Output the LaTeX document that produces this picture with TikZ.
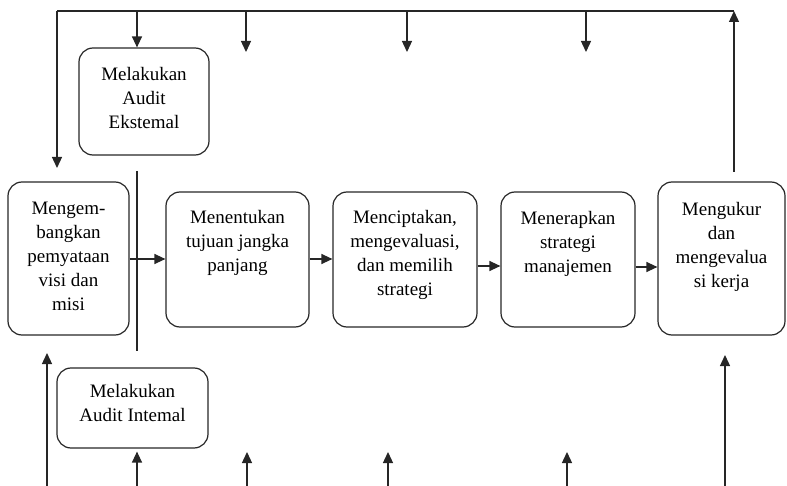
\documentclass[tikz,border=0pt]{standalone}
\usepackage{fontspec}
\setmainfont{Liberation Serif}
\usetikzlibrary{arrows.meta}
\begin{document}
\begin{tikzpicture}[x=1pt,y=-1pt,
  box/.style={draw=black!85,line width=1.2pt,rounded corners=14pt,inner sep=0pt},
  txt/.style={anchor=north,align=center,inner sep=0pt,font=\fontsize{19}{24}\selectfont,text=black},
  ln/.style={draw=black!85,line width=1.3pt},
  arr/.style={ln,-{Triangle[length=11pt,width=10pt]}}]
\useasboundingbox (0,0) rectangle (787,486);
% boxes
\node[box,minimum width=130pt,minimum height=107pt] (ext) at (144,101.5) {};
\node[box,minimum width=121pt,minimum height=153pt] (b1) at (68.5,258.5) {};
\node[box,minimum width=143pt,minimum height=135pt] (b2) at (237.5,259.5) {};
\node[box,minimum width=144pt,minimum height=135pt] (b3) at (405,259.5) {};
\node[box,minimum width=134pt,minimum height=135pt] (b4) at (568,259.5) {};
\node[box,minimum width=127pt,minimum height=153pt] (b5) at (721.5,258.5) {};
\node[box,minimum width=151pt,minimum height=80pt] (int) at (132.5,408) {};
% texts
\node[txt] (text) at (144,67) {Melakukan\\Audit\\Ekstemal};
\node[txt] (t1) at (68.5,202) {Mengem-\\bangkan\\pemyataan\\visi dan\\misi};
\node[txt] (t2) at (237.5,210) {Menentukan\\tujuan jangka\\panjang};
\node[txt] (t3) at (405,210) {Menciptakan,\\mengevaluasi,\\dan memilih\\strategi};
\node[txt] (t4) at (568,211) {Menerapkan\\strategi\\manajemen};
\node[txt] (t5) at (721.5,202) {Mengukur\\dan\\mengevalua\\si kerja};
\node[txt] (tint) at (132.5,384) {Melakukan\\Audit Intemal};
% coordinates
\coordinate (tl) at (57,11);
\coordinate (tr) at (734,11);
\coordinate (te) at (137,11);
\coordinate (rs) at (734,172);
\coordinate (ld) at (57,168);
\coordinate (d1) at (246,52);
\coordinate (d2) at (407,52);
\coordinate (d3) at (586,52);
\coordinate (vt) at (137,171);
\coordinate (vb) at (137,351);
\coordinate (u1) at (47,353);
\coordinate (u5) at (725,355);
\coordinate (bi) at (137,486);
\coordinate (bu1) at (47,486);
\coordinate (bu5) at (725,486);
\coordinate (p1) at (247,486);
\coordinate (p2) at (388,486);
\coordinate (p3) at (567,486);
\coordinate (q1) at (247,452);
\coordinate (q2) at (388,452);
\coordinate (q3) at (567,452);
\coordinate (h12) at (0,259);
\coordinate (h34) at (0,266);
\coordinate (h45) at (0,267);
% top feedback
\draw[arr] (rs) -- (tr);
\draw[ln] (tr) -- (tl);
\draw[arr] (tl) -- (ld);
\draw[arr] (te) -- (te |- ext.north);
\draw[arr] (d1 |- tl) -- (d1);
\draw[arr] (d2 |- tl) -- (d2);
\draw[arr] (d3 |- tl) -- (d3);
% vertical separator
\draw[ln] (vt) -- (vb);
% main flow
\draw[arr] (b1.east |- h12) -- (b2.west |- h12);
\draw[arr] (b2.east |- h12) -- (b3.west |- h12);
\draw[arr] (b3.east |- h34) -- (b4.west |- h34);
\draw[arr] (b4.east |- h45) -- (b5.west |- h45);
% bottom arrows
\draw[arr] (bu1) -- (u1);
\draw[arr] (bi) -- ([yshift=-3pt]bi |- int.south);
\draw[arr] (p1) -- (q1);
\draw[arr] (p2) -- (q2);
\draw[arr] (p3) -- (q3);
\draw[arr] (bu5) -- (u5);
\end{tikzpicture}
\end{document}
